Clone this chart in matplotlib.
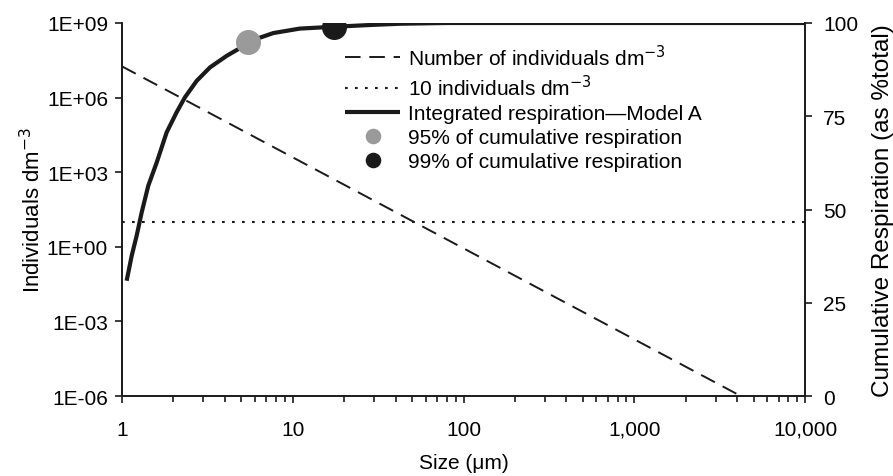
import matplotlib
matplotlib.use("Agg")
import matplotlib.pyplot as plt
from matplotlib.ticker import FixedLocator, FixedFormatter, LogLocator, NullFormatter, NullLocator

plt.rcParams['font.family'] = ['Liberation Sans', 'DejaVu Sans']

# number of individuals per dm3 (power law, two end points)
size_um = [1, 4200]
individuals = [1.8e7, 1e-6]

# 10 individuals dm-3 reference level
limit_size = [1, 10000]
limit_individuals = [10, 10]

# integrated respiration, model A (% of total)
resp_size = [1.065, 1.14, 1.219, 1.304, 1.426, 1.597, 1.827, 2.091, 2.339,
             2.739, 3.277, 4.105, 4.8, 5.5, 7.69, 11.0, 17.5, 29.6, 42.5,
             80, 10000]
resp_pct = [30.9, 37.6, 43.0, 49.2, 56.4, 62.6, 70.7, 76.1, 80.1,
            84.5, 88.1, 91.2, 93.0, 95, 97.3, 98.5, 99, 99.5, 99.8,
            100, 100]

pct95_size, pct95 = [5.5], [95]
pct99_size, pct99 = [17.5], [99]

ytick_vals = [1e-6, 1e-3, 1, 1e3, 1e6, 1e9]
ytick_labels = ["1E-06", "1E-03", "1E+00", "1E+03", "1E+06", "1E+09"]
xtick_vals = [1, 10, 100, 1000, 10000]
xtick_labels = ["1", "10", "100", "1,000", "10,000"]
rtick_vals = [0, 25, 50, 75, 100]

fig = plt.figure(figsize=(8.93, 4.77), dpi=100)
ax = fig.add_axes([0.1366, 0.1677, 0.7649, 0.782])
ax2 = ax.twinx()

l1, = ax.plot(size_um, individuals, color="#1a1a1a", lw=1.4,
              linestyle=(0, (8, 4.5)))
l2, = ax.plot(limit_size, limit_individuals, color="#1a1a1a", lw=1.5,
              linestyle=(0, (1.3, 3.5)))
l3, = ax2.plot(resp_size, resp_pct, color="#1a1a1a", lw=3,
               solid_capstyle="butt", solid_joinstyle="round")
m1, = ax2.plot(pct95_size, pct95, "o", color="#9a9a9a", ms=17, zorder=5)
m2, = ax2.plot(pct99_size, pct99, "o", color="#1a1a1a", ms=17, zorder=5)

ax.set_xscale("log")
ax.set_yscale("log")
ax.set_xlim(1, 10000)
ax.set_ylim(1e-6, 1e9)
ax2.set_ylim(0, 100)

ax.yaxis.set_major_locator(FixedLocator(ytick_vals))
ax.yaxis.set_major_formatter(FixedFormatter(ytick_labels))
ax.yaxis.set_minor_locator(NullLocator())
ax.xaxis.set_major_locator(FixedLocator(xtick_vals))
ax.xaxis.set_major_formatter(FixedFormatter(xtick_labels))
ax.xaxis.set_minor_locator(LogLocator(base=10, subs=range(2, 10)))
ax.xaxis.set_minor_formatter(NullFormatter())
ax2.yaxis.set_major_locator(FixedLocator(rtick_vals))

for a in (ax, ax2):
    a.spines["top"].set_visible(False)
    for s in a.spines.values():
        s.set_linewidth(1.2)
        s.set_color("#1a1a1a")

ax.tick_params(axis="y", which="major", length=5, width=1.2, pad=5,
               labelsize=15, color="#1a1a1a")
ax.tick_params(axis="x", which="major", length=5, width=1.2, pad=12,
               labelsize=15, color="#1a1a1a")
ax.tick_params(axis="x", which="minor", length=4, width=1.2, color="#1a1a1a")
ax2.tick_params(axis="y", which="major", length=5, width=1.2, pad=8,
                labelsize=15, color="#1a1a1a")

ax.set_xlabel("Size (μm)", fontsize=15, labelpad=10)
ax.set_ylabel("Individuals dm$^{-3}$", fontsize=16, labelpad=1)
ax2.set_ylabel("Cumulative Respiration (as %total)", fontsize=17.5, labelpad=10)

labels = ["Number of individuals dm$^{-3}$",
          "10 individuals dm$^{-3}$",
          "Integrated respiration\u2014Model A",
          "95% of cumulative respiration",
          "99% of cumulative respiration"]
ax2.legend([l1, l2, l3, m1, m2], labels, loc="upper left",
           bbox_to_anchor=(0.3265, 0.945), frameon=False, borderpad=0,
           borderaxespad=0, handlelength=2.65, handletextpad=0.35,
           labelspacing=0.24, markerscale=0.6, fontsize=15)

fig.savefig("out.png", dpi=100)
